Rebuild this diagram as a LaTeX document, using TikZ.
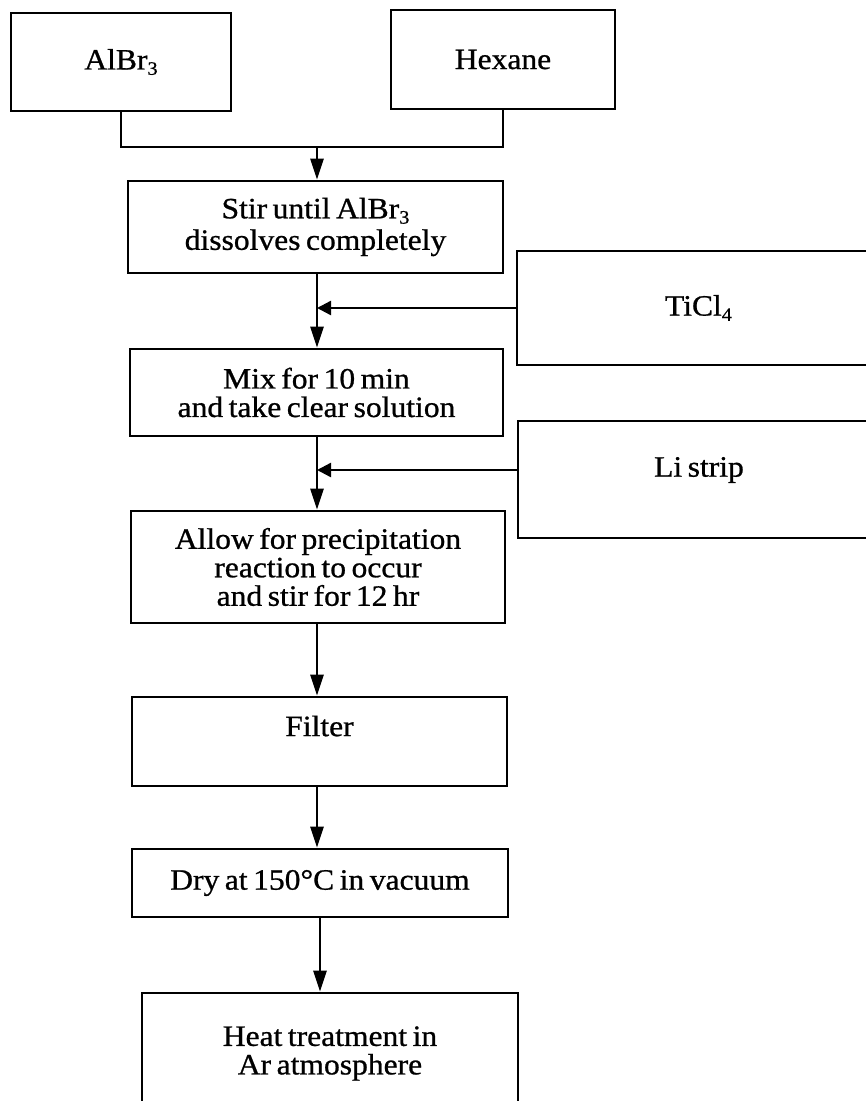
\documentclass[tikz,border=0pt]{standalone}
\usepackage{fontspec}
\setmainfont{Liberation Serif}[FakeStretch=1.07, FakeBold=0.8, WordSpace=0.7]
\usetikzlibrary{arrows.meta}
\tikzset{
  txt/.style={font=\fontsize{29.5}{28.5}\selectfont},
  box/.style={draw, line width=2.6pt, inner sep=0pt, align=center, txt},
  link/.style={line width=2.4pt},
  arr/.style={line width=2.4pt, -{Triangle[length=21pt,width=13pt]}},
  harr/.style={line width=2.4pt, -{Triangle[length=14pt,width=14pt]}},
}
\newcommand{\subnum}[1]{\raisebox{-0.18em}{\fontsize{19}{19}\selectfont #1}}
\begin{document}
\begin{tikzpicture}[x=1pt, y=-1pt]
\useasboundingbox (0,0) rectangle (866,1101);
\clip (0,0) rectangle (866,1101);
\fill[white] (0,0) rectangle (866,1101);

\node[box, minimum width=220pt, minimum height=98pt] (albr) at (121,62) {AlBr\subnum{3}};
\node[box, minimum width=224pt, minimum height=99pt] (hex) at (503,59.5) {Hexane};
\node[box, minimum width=375pt, minimum height=92pt] (stir) at (315.5,227) {Stir until AlBr\subnum{3}\\[3pt]dissolves completely};
\node[box, minimum width=363pt, minimum height=114pt] (ti) at (698.5,308) {TiCl\subnum{4}};
\node[box, minimum width=373pt, minimum height=87pt] (mix) at (316.5,392.5) {Mix for 10 min\\and take clear solution};
\node[box, minimum width=362pt, minimum height=117pt, label={[txt, yshift=9.5pt]center:Li strip}] (li) at (699,479.5) {};
\node[box, minimum width=374pt, minimum height=112pt] (allow) at (318,567) {Allow for precipitation\\reaction to occur\\and stir for 12 hr};
\node[box, minimum width=375pt, minimum height=89pt, label={[txt, yshift=15.5pt]center:Filter}] (filter) at (319.5,741.5) {};
\node[box, minimum width=376pt, minimum height=68pt] (dry) at (320,883) {Dry at 150°C in vacuum};
\node[box, minimum width=376pt, minimum height=121pt] (heat) at (330,1053.5) {Heat treatment in\\Ar atmosphere};

\coordinate (j) at (317,147);
\coordinate (cx) at (317,0);
\coordinate (cx2) at (320,0);
\coordinate (lj) at (317,470);

\draw[link] (albr.south) |- (j) -| (hex.south);
\draw[arr] (j) -- (stir.north -| j);
\draw[arr] (stir.south -| cx) -- (mix.north -| cx);
\draw[harr] (ti.west) -- (ti.west -| cx);
\draw[arr] (mix.south -| cx) -- (allow.north -| cx);
\draw[harr] (li.west |- lj) -- (lj);
\draw[arr] (allow.south -| cx) -- (filter.north -| cx);
\draw[arr] (filter.south -| cx) -- (dry.north -| cx);
\draw[arr] (dry.south -| cx2) -- (heat.north -| cx2);
\end{tikzpicture}
\end{document}
